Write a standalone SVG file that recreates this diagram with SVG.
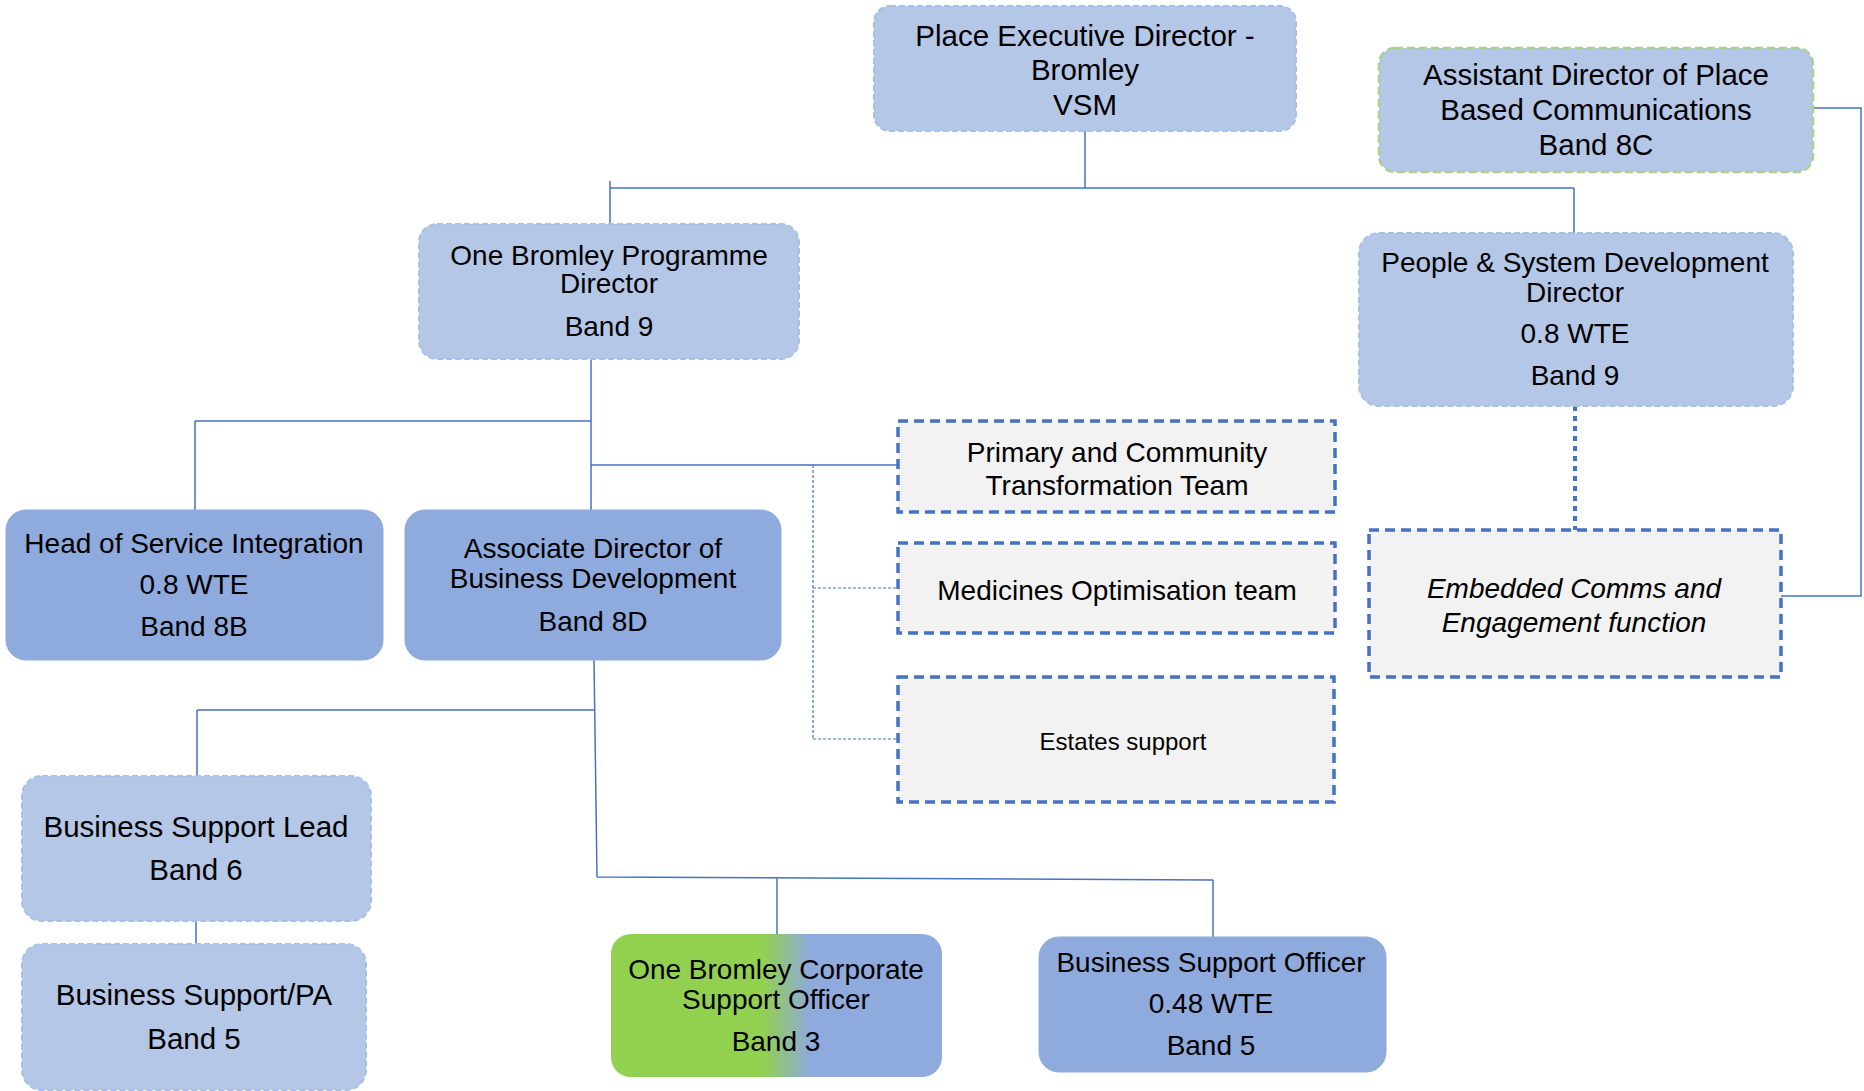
<svg xmlns="http://www.w3.org/2000/svg" width="1864" height="1091" viewBox="0 0 1864 1091">
<defs>
<linearGradient id="gb" x1="611" y1="0" x2="942" y2="0" gradientUnits="userSpaceOnUse">
<stop offset="0.46" stop-color="#92d050"/>
<stop offset="0.60" stop-color="#8faadc"/>
</linearGradient>
<style>
text{font-family:"Liberation Sans",Arial,sans-serif;font-size:28px;fill:#000;text-anchor:middle}
.big{font-size:29.5px}
.lb{fill:#b4c7e7;stroke:#a8c0e8;stroke-width:2;stroke-dasharray:6 3}
.lg{fill:#b4c7e7;stroke:#a9d18e;stroke-width:2.5;stroke-dasharray:8 4}
.db{fill:#8faadc;stroke:#8faadc;stroke-width:1}
.dx{fill:#f2f2f2;stroke:#4472c4;stroke-width:3.5;stroke-dasharray:10 6}
.c{fill:none;stroke:#4472c4;stroke-width:1.5}
.cd{fill:none;stroke:#4472c4;stroke-width:1.2;stroke-dasharray:3 2}
.ct{fill:none;stroke:#4472c4;stroke-width:4;stroke-dasharray:5 5}
.it{font-style:italic}
</style>
</defs>
<rect width="1864" height="1091" fill="#fff"/>
<g id="connectors">
<path class="c" d="M1085 131V188M610 188H1574M610 181V224M1574 188V233"/>
<path class="c" d="M591 359V510M195 421H591M195 421V511M591 465H898"/>
<path class="cd" d="M813 465V739M813 588H898M813 739H898"/>
<path class="c" d="M594 660L597 877M197 710H594M197 710V776M597 877L1213 880M777 877V934M1213 880V937M196 921V944"/>
<path class="c" d="M1813 108H1861V596H1781"/>
<path class="ct" d="M1575 406V530"/>
</g>
<g id="place-exec">
<rect class="lb" x="874" y="6" width="422" height="125" rx="16"/>
<text class="big" x="1085" y="46">Place Executive Director -</text>
<text class="big" x="1085" y="80">Bromley</text>
<text class="big" x="1085" y="115">VSM</text>
</g>
<g id="asst-director">
<rect class="lg" x="1379" y="48" width="434" height="124" rx="16"/>
<text class="big" x="1596" y="85">Assistant Director of Place</text>
<text class="big" x="1596" y="120">Based Communications</text>
<text class="big" x="1596" y="155">Band 8C</text>
</g>
<g id="people-system">
<rect class="lb" x="1359" y="233" width="434" height="173" rx="20"/>
<text x="1575" y="272">People &amp; System Development</text>
<text x="1575" y="302">Director</text>
<text x="1575" y="343">0.8 WTE</text>
<text x="1575" y="385">Band 9</text>
</g>
<g id="programme-director">
<rect class="lb" x="419" y="224" width="380" height="135" rx="18"/>
<text x="609" y="265">One Bromley Programme</text>
<text x="609" y="293">Director</text>
<text x="609" y="336">Band 9</text>
</g>
<g id="head-service">
<rect class="db" x="6" y="510" width="377" height="150" rx="20"/>
<text x="194" y="553">Head of Service Integration</text>
<text x="194" y="594">0.8 WTE</text>
<text x="194" y="636">Band 8B</text>
</g>
<g id="assoc-director">
<rect class="db" x="405" y="510" width="376" height="150" rx="20"/>
<text x="593" y="558">Associate Director of</text>
<text x="593" y="588">Business Development</text>
<text x="593" y="631">Band 8D</text>
</g>
<g id="primary-community">
<rect class="dx" x="898" y="421" width="437" height="91"/>
<text x="1117" y="462">Primary and Community</text>
<text x="1117" y="495">Transformation Team</text>
</g>
<g id="medicines">
<rect class="dx" x="898" y="543" width="437" height="90"/>
<text x="1117" y="600">Medicines Optimisation team</text>
</g>
<g id="estates">
<rect class="dx" x="898" y="677" width="436" height="125"/>
<text x="1123" y="750" style="font-size:24px">Estates support</text>
</g>
<g id="embedded">
<rect class="dx" x="1369" y="530" width="412" height="147"/>
<text class="it" x="1574" y="598">Embedded Comms and</text>
<text class="it" x="1574" y="632">Engagement function</text>
</g>
<g id="bs-lead">
<rect class="lb" x="22" y="776" width="349" height="145" rx="20"/>
<text class="big" x="196" y="837">Business Support Lead</text>
<text class="big" x="196" y="880">Band 6</text>
</g>
<g id="bs-pa">
<rect class="lb" x="22" y="944" width="344" height="146" rx="20"/>
<text class="big" x="194" y="1005">Business Support/PA</text>
<text class="big" x="194" y="1049">Band 5</text>
</g>
<g id="corp-support">
<rect x="611" y="934" width="331" height="143" rx="20" fill="url(#gb)"/>
<text x="776" y="979">One Bromley Corporate</text>
<text x="776" y="1009">Support Officer</text>
<text x="776" y="1051">Band 3</text>
</g>
<g id="bs-officer">
<rect class="db" x="1039" y="937" width="347" height="135" rx="20"/>
<text x="1211" y="972">Business Support Officer</text>
<text x="1211" y="1013">0.48 WTE</text>
<text x="1211" y="1055">Band 5</text>
</g>
</svg>
